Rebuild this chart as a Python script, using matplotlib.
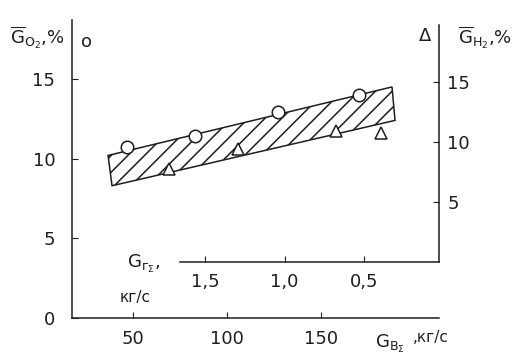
import matplotlib
matplotlib.use('Agg')
import matplotlib.pyplot as plt
from matplotlib.patches import Polygon

# circles: O2 share (left axis) vs air flow G_B
g_b_o2 = [47, 83, 127, 170]
o2 = [10.7, 11.4, 12.9, 14.0]
# triangles: H2 share (right axis)
g_b_h2 = [69, 106, 158, 182]
h2 = [7.75, 9.4, 10.9, 10.75]
# hatched scatter band (left axis units)
band_x = [36.7, 187.8, 189.4, 38.8]
band_y = [10.2, 14.5, 12.4, 8.3]

left_ticks = [0, 5, 10, 15]
right_ticks = [5, 10, 15]
gb_ticks = [50, 100, 150]
gr_ticks = [1.5, 1.0, 0.5]
gr_labels = ['1,5', '1,0', '0,5']

ink = '#1e1e1e'
fs = 13
plt.rcParams['font.family'] = ['DejaVu Sans']
plt.rcParams['mathtext.fontset'] = 'dejavusans'
plt.rcParams['hatch.linewidth'] = 1.1
plt.rcParams['hatch.color'] = ink

W, H = 521, 360
fig = plt.figure(figsize=(W / 100, H / 100), dpi=100)

ax = fig.add_axes([72 / W, 42 / H, 367 / W, 298 / H])
ax.set_xlim(17.5, 212.8)
ax.set_ylim(0, 18.7)
for s in ['top', 'right']:
    ax.spines[s].set_visible(False)
for s in ['left', 'bottom']:
    ax.spines[s].set_color(ink)
    ax.spines[s].set_linewidth(1.1)
ax.set_xticks(gb_ticks)
ax.set_yticks(left_ticks)
ax.tick_params(axis='x', direction='in', length=4, pad=9, labelsize=fs, colors=ink)
ax.tick_params(axis='y', direction='in', length=4, pad=12, labelsize=fs, colors=ink)

band = Polygon(list(zip(band_x, band_y)), closed=True, facecolor='none',
               edgecolor=ink, hatch='//', linewidth=1.1)
ax.add_patch(band)
ax.plot(g_b_o2, o2, 'o', ms=9, mfc='white', mec=ink, mew=1.1, zorder=5)

ax2 = ax.twinx()
ax2.set_ylim(-4.67, 20.17)
for s in ['top', 'left', 'bottom']:
    ax2.spines[s].set_visible(False)
ax2.spines['right'].set_bounds(0, 19.75)
ax2.spines['right'].set_color(ink)
ax2.spines['right'].set_linewidth(1.1)
ax2.set_yticks(right_ticks)
ax2.tick_params(axis='y', direction='in', length=4, pad=6, labelsize=fs, colors=ink)
ax2.plot(g_b_h2, h2, '^', ms=8, mfc='white', mec=ink, mew=1.1, zorder=5)

# inner axis for total gas flow G_r
ax3 = fig.add_axes([180 / W, 98 / H, 259 / W, 0.001])
ax3.set_xlim(1.66, 0.025)
ax3.patch.set_visible(False)
ax3.yaxis.set_visible(False)
for s in ['top', 'left', 'right']:
    ax3.spines[s].set_visible(False)
ax3.spines['bottom'].set_color(ink)
ax3.spines['bottom'].set_linewidth(1.1)
ax3.set_xticks(gr_ticks)
ax3.set_xticklabels(gr_labels)
ax3.tick_params(axis='x', direction='in', length=4, pad=8, labelsize=fs, colors=ink)

# axis titles
fig.text(10 / W, 1 - 44 / H, r'$\overline{\mathrm{G}}_{\mathrm{O}_2}$,%', fontsize=fs, color=ink)
fig.text(86 / W, 1 - 42 / H, 'o', fontsize=fs, color=ink, ha='center', va='center')
fig.text(425 / W, 1 - 36 / H, 'Δ', fontsize=fs, color=ink, ha='center', va='center')
fig.text(458 / W, 1 - 44 / H, r'$\overline{\mathrm{G}}_{\mathrm{H}_2}$,%', fontsize=fs, color=ink)
fig.text(127 / W, 1 - 268 / H, r'$\mathrm{G}_{\mathrm{г}_\Sigma}$,', fontsize=fs, color=ink)
fig.text(120 / W, 1 - 302 / H, 'кг/с', fontsize=11, color=ink)
fig.text(375 / W, 1 - 348 / H, r'$\mathrm{G}_{\mathrm{B}_\Sigma}$', fontsize=fs, color=ink)
fig.text(413 / W, 1 - 342 / H, ',кг/с', fontsize=11, color=ink)

fig.savefig('out.png', dpi=100)
